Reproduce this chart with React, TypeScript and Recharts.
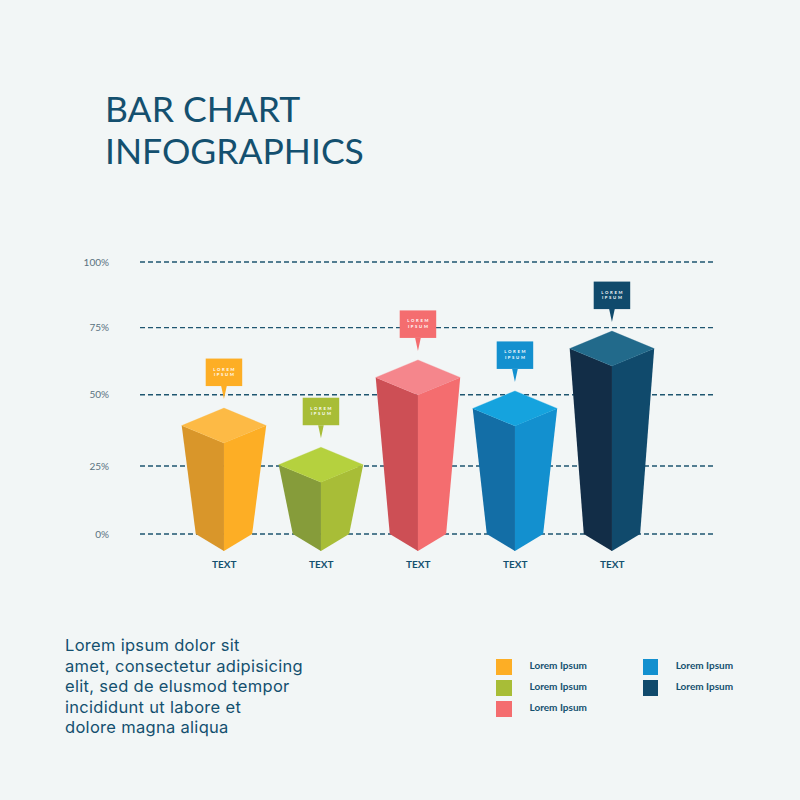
import React from 'react';
import { BarChart, Bar, XAxis, YAxis, CartesianGrid } from 'recharts';

const categories = ['TEXT', 'TEXT', 'TEXT', 'TEXT', 'TEXT'];
const values = [46.3, 31.9, 64, 52.6, 74.6];
const tickPositions = [0, 25, 51.2, 75.9, 100];
const tickLabels = ['0%', '25%', '50%', '75%', '100%'];
const leftColors = ['#d9962a', '#869c3a', '#cd4f55', '#136ea6', '#122d47'];
const rightColors = ['#fdae25', '#a8bd37', '#f46d6f', '#1390cf', '#104a6c'];
const topColors = ['#fdba45', '#b5d13e', '#f5868c', '#15a3de', '#226a8b'];
const legendLabels = ['Lorem Ipsum', 'Lorem Ipsum', 'Lorem Ipsum', 'Lorem Ipsum', 'Lorem Ipsum'];
const titleLines = ['BAR CHART', 'INFOGRAPHICS'];
const paragraphLines = [
  'Lorem ipsum dolor sit',
  'amet, consectetur adipisicing',
  'elit, sed de elusmod tempor',
  'incididunt ut labore et',
  'dolore magna aliqua',
];

const data = categories.map((name, i) => ({ name, value: values[i], index: i }));
const FONT = 'Lato, sans-serif';
const BODY_FONT = 'Inter, sans-serif';
const INK = '#14506f';

function Prism(props: any) {
  const { x, y, width, height, payload } = props;
  const i = payload.index;
  const cx = x + width / 2;
  const half = width / 2;
  const base = y + height;
  const baseHalf = half * 0.667;
  const tip = base + 17;
  const sideY = y + 17.5;
  const frontY = y + 35;
  const boxW = 36.5;
  const boxH = 27.5;
  const boxTop = y - 49.5;
  const boxBottom = boxTop + boxH;
  return (
    <g>
      <polygon points={`${cx + half},${sideY} ${cx - 0.5},${frontY} ${cx - 0.5},${tip - 0.3} ${cx},${tip} ${cx + baseHalf},${base}`} fill={rightColors[i]} />
      <polygon points={`${cx - half},${sideY} ${cx},${frontY} ${cx},${tip} ${cx - baseHalf},${base}`} fill={leftColors[i]} />
      <polygon points={`${cx},${y} ${cx + half},${sideY} ${cx},${frontY} ${cx - half},${sideY}`} fill={topColors[i]} stroke={topColors[i]} strokeWidth={0.3} />
      <rect x={cx - boxW / 2} y={boxTop} width={boxW} height={boxH} fill={rightColors[i]} />
      <polygon points={`${cx - 2.8},${boxBottom} ${cx + 2.8},${boxBottom} ${cx},${boxBottom + 13}`} fill={rightColors[i]} />
      <text x={cx + 0.8} y={boxTop + 12} textAnchor="middle" fontFamily={FONT} fontSize={4.2} fontWeight={700} letterSpacing={1.7} fill="#ffffff">LOREM</text>
      <text x={cx + 0.8} y={boxTop + 17.5} textAnchor="middle" fontFamily={FONT} fontSize={4.2} fontWeight={700} letterSpacing={1.7} fill="#ffffff">IPSUM</text>
    </g>
  );
}

const abs = (left: number, top: number): React.CSSProperties => ({ position: 'absolute', left, top, whiteSpace: 'nowrap' });

export default function App() {
  return (
    <div style={{ position: 'absolute', left: 0, top: 0, width: 800, height: 800, background: '#f2f6f6', overflow: 'hidden', fontFamily: FONT }}>
      {titleLines.map((t, i) => (
        <div key={i} style={{ ...abs(105, 88 + i * 42), fontSize: 35.5, lineHeight: '42px', color: INK, fontWeight: 400 }}>{t}</div>
      ))}

      <div style={{ position: 'absolute', left: 0, top: 0 }}>
        <BarChart width={800} height={800} data={data} margin={{ top: 262, right: 86, bottom: 236, left: 0 }} barSize={84.5}>
          <CartesianGrid horizontal vertical={false} stroke="#1f5670" strokeWidth={1.3} strokeDasharray="5 3" />
          <XAxis
            dataKey="name"
            axisLine={false}
            tickLine={false}
            height={30}
            interval={0}
            padding={{ left: 35.7, right: 53.3 }}
            tickMargin={21}
            tick={{ fontFamily: FONT, fontSize: 10, fontWeight: 700, fill: INK }}
          />
          <YAxis
            width={140}
            type="number"
            domain={[0, 100]}
            ticks={tickPositions}
            interval={0}
            axisLine={false}
            tickLine={false}
            tickMargin={25}
            tickFormatter={(v: number) => tickLabels[tickPositions.indexOf(v)]}
            tick={{ fontFamily: FONT, fontSize: 10, fill: '#5a7280' }}
          />
          <Bar dataKey="value" isAnimationActive={false} shape={<Prism />} />
        </BarChart>
      </div>

      {paragraphLines.map((t, i) => (
        <div key={i} style={{ ...abs(65, 635 + i * 20.5), fontFamily: BODY_FONT, fontSize: 16.5, letterSpacing: 0.3, lineHeight: '20px', color: INK }}>{t}</div>
      ))}

      {legendLabels.map((t, i) => {
        const col = i < 3 ? 0 : 1;
        const row = i < 3 ? i : i - 3;
        const sx = col === 0 ? 496 : 642.7;
        const tx = col === 0 ? 529.5 : 675.7;
        const sy = 659 + row * 21;
        return (
          <React.Fragment key={i}>
            <div style={{ position: 'absolute', left: sx, top: sy, width: 15.5, height: 15.5, background: rightColors[i] }} />
            <div style={{ ...abs(tx, sy - 1), fontSize: 10, lineHeight: '14px', fontWeight: 700, color: INK }}>{t}</div>
          </React.Fragment>
        );
      })}
    </div>
  );
}
